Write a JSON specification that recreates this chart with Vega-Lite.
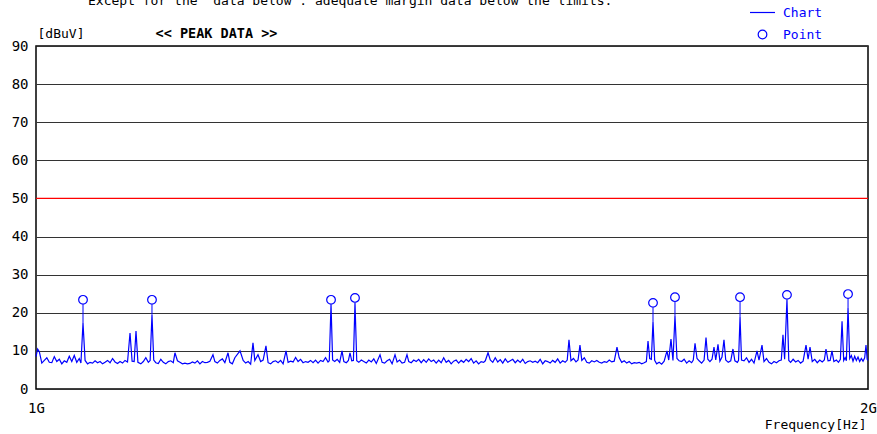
{
"$schema": "https://vega.github.io/schema/vega-lite/v6.json",
"width": 832, "height": 343,
"autosize": {"type": "none"},
"padding": {"left": 36, "top": 46, "right": 9, "bottom": 45},
"background": "white",
"config": {"view": {"stroke": "#000", "strokeWidth": 1.5}, "font": "DejaVu Sans Mono"},
"title": {"text": "Except for the\u00a0 data below : adequate margin data below the limits.", "anchor": "start", "frame": "group", "dx": 52, "offset": -2, "fontSize": 13, "fontWeight": "normal", "font": "DejaVu Sans Mono", "color": "#000"},
"datasets": {
"chart": [
{"f":1000,"v":8.5},{"f":1002,"v":10.5},{"f":1004,"v":9.8},{"f":1007,"v":6.8},{"f":1010,"v":7.5},{"f":1013,"v":8.2},{"f":1016,"v":7},{"f":1019,"v":6.9},{"f":1022,"v":8.5},{"f":1025,"v":7.2},{"f":1028,"v":7.8},{"f":1031,"v":6.6},{"f":1034,"v":7.4},{"f":1037,"v":7.0},{"f":1040,"v":8.6},{"f":1043,"v":7.2},{"f":1046,"v":8.8},{"f":1049,"v":7.0},{"f":1052,"v":8.0},{"f":1054,"v":6.8},{"f":1056.5,"v":17.3},{"f":1059,"v":7.5},{"f":1062,"v":6.6},{"f":1065,"v":7.0},{"f":1068,"v":6.8},{"f":1071,"v":7.4},{"f":1074,"v":6.9},{"f":1077,"v":7.2},{"f":1080,"v":6.6},{"f":1083,"v":7.0},{"f":1086,"v":7.5},{"f":1089,"v":6.9},{"f":1092,"v":8.0},{"f":1095,"v":7.1},{"f":1098,"v":6.7},{"f":1101,"v":7.2},{"f":1104,"v":6.8},{"f":1107,"v":7.5},{"f":1110,"v":7.1},{"f":1113,"v":14.7},{"f":1115.5,"v":7.3},{"f":1118,"v":7.2},{"f":1120.2,"v":15.2},{"f":1122.5,"v":7.0},{"f":1126,"v":6.6},{"f":1129,"v":7.2},{"f":1132,"v":8.2},{"f":1135,"v":7.0},{"f":1137.2,"v":7.5},{"f":1139.4,"v":19.5},{"f":1141.5,"v":7.6},{"f":1144,"v":6.9},{"f":1147,"v":6.7},{"f":1150,"v":7.8},{"f":1153,"v":7.0},{"f":1156,"v":6.6},{"f":1159,"v":7.2},{"f":1162,"v":7.4},{"f":1165,"v":6.9},{"f":1167,"v":9.5},{"f":1170,"v":7.4},{"f":1173,"v":7.0},{"f":1176,"v":6.6},{"f":1179,"v":6.8},{"f":1182,"v":6.6},{"f":1185,"v":6.7},{"f":1188,"v":7.1},{"f":1191,"v":6.8},{"f":1194,"v":7.4},{"f":1197,"v":6.6},{"f":1200,"v":7.2},{"f":1203,"v":6.9},{"f":1206,"v":7.0},{"f":1209,"v":7.3},{"f":1212.7,"v":9.0},{"f":1215,"v":7.2},{"f":1218,"v":6.8},{"f":1221,"v":7.5},{"f":1224,"v":7.9},{"f":1227,"v":6.9},{"f":1230.8,"v":9.5},{"f":1233,"v":7.0},{"f":1236,"v":6.6},{"f":1239,"v":8.2},{"f":1245.2,"v":10.0},{"f":1249,"v":7.5},{"f":1252,"v":6.8},{"f":1255,"v":7.2},{"f":1258,"v":6.5},{"f":1260.8,"v":12.1},{"f":1263,"v":7.5},{"f":1266.8,"v":9.0},{"f":1270,"v":7.2},{"f":1273,"v":7.6},{"f":1276.4,"v":11.3},{"f":1279,"v":6.9},{"f":1282,"v":6.6},{"f":1285,"v":7.2},{"f":1288,"v":7.4},{"f":1291,"v":6.9},{"f":1294,"v":7.5},{"f":1297,"v":6.6},{"f":1300.5,"v":10.0},{"f":1303,"v":7.0},{"f":1306,"v":7.3},{"f":1309,"v":7.1},{"f":1312,"v":8.3},{"f":1315,"v":7.2},{"f":1318,"v":7.8},{"f":1321,"v":6.9},{"f":1324,"v":7.2},{"f":1327,"v":7.0},{"f":1330,"v":7.5},{"f":1333,"v":6.9},{"f":1336,"v":7.6},{"f":1339,"v":6.8},{"f":1342,"v":7.5},{"f":1345,"v":7.2},{"f":1348,"v":8.2},{"f":1351,"v":7.1},{"f":1352.5,"v":7.4},{"f":1354.6,"v":22.2},{"f":1356.5,"v":7.6},{"f":1359,"v":7.2},{"f":1362,"v":7.8},{"f":1365,"v":7.0},{"f":1367.8,"v":10.0},{"f":1370,"v":7.2},{"f":1373,"v":6.9},{"f":1375.5,"v":7.5},{"f":1377.4,"v":9.5},{"f":1379.5,"v":7.4},{"f":1381.5,"v":7.5},{"f":1383.4,"v":22.7},{"f":1385.5,"v":7.4},{"f":1388,"v":7.0},{"f":1391,"v":7.6},{"f":1394,"v":7.2},{"f":1397,"v":6.8},{"f":1400,"v":7.6},{"f":1403,"v":7.1},{"f":1406,"v":7.9},{"f":1409,"v":6.7},{"f":1413.5,"v":9.0},{"f":1416,"v":7.0},{"f":1419,"v":6.8},{"f":1422,"v":7.4},{"f":1425,"v":7.8},{"f":1428,"v":6.6},{"f":1431.5,"v":9.0},{"f":1434,"v":7.1},{"f":1437,"v":7.6},{"f":1440,"v":6.8},{"f":1443,"v":7.0},{"f":1445.9,"v":9.0},{"f":1448,"v":7.2},{"f":1451,"v":6.9},{"f":1454,"v":7.6},{"f":1457,"v":7.2},{"f":1460,"v":7.8},{"f":1463,"v":6.9},{"f":1466,"v":7.7},{"f":1469,"v":7.0},{"f":1472,"v":7.9},{"f":1475,"v":7.2},{"f":1478,"v":7.6},{"f":1481,"v":6.8},{"f":1484,"v":7.6},{"f":1487,"v":6.9},{"f":1490,"v":8.2},{"f":1493,"v":7.0},{"f":1496,"v":7.5},{"f":1499,"v":6.6},{"f":1502,"v":7.3},{"f":1505,"v":7.6},{"f":1508,"v":6.8},{"f":1511,"v":7.5},{"f":1514,"v":7.0},{"f":1517,"v":7.8},{"f":1520,"v":7.2},{"f":1523,"v":8.0},{"f":1526,"v":6.8},{"f":1529,"v":7.4},{"f":1532,"v":6.6},{"f":1535,"v":7.2},{"f":1538,"v":7.0},{"f":1540,"v":7.4},{"f":1543.3,"v":9.5},{"f":1546,"v":7.6},{"f":1549,"v":7.0},{"f":1552,"v":8.2},{"f":1555,"v":7.1},{"f":1558,"v":7.7},{"f":1561,"v":6.8},{"f":1564,"v":7.9},{"f":1567,"v":7.0},{"f":1570,"v":7.4},{"f":1573,"v":7.8},{"f":1576,"v":6.9},{"f":1579,"v":7.6},{"f":1582,"v":7.0},{"f":1585,"v":7.8},{"f":1588,"v":6.7},{"f":1591,"v":7.2},{"f":1594,"v":7.4},{"f":1597,"v":7.0},{"f":1600,"v":7.3},{"f":1603,"v":6.9},{"f":1606,"v":7.8},{"f":1609,"v":6.6},{"f":1612,"v":7.4},{"f":1615,"v":7.2},{"f":1618,"v":6.8},{"f":1621,"v":7.5},{"f":1624,"v":7.0},{"f":1627,"v":7.9},{"f":1630,"v":6.8},{"f":1633,"v":7.4},{"f":1636,"v":7.0},{"f":1638.5,"v":7.6},{"f":1640.6,"v":12.9},{"f":1643,"v":7.4},{"f":1646,"v":8.0},{"f":1649,"v":7.1},{"f":1651.5,"v":7.6},{"f":1653.8,"v":11.5},{"f":1656,"v":7.5},{"f":1659,"v":8.2},{"f":1662,"v":7.0},{"f":1665,"v":6.8},{"f":1668,"v":7.4},{"f":1671,"v":7.1},{"f":1674,"v":7.5},{"f":1677,"v":7.0},{"f":1680,"v":6.8},{"f":1683,"v":7.2},{"f":1686,"v":7.0},{"f":1689,"v":7.6},{"f":1692,"v":7.1},{"f":1695,"v":7.3},{"f":1698.3,"v":11.0},{"f":1701,"v":8.2},{"f":1704,"v":7.0},{"f":1707,"v":7.4},{"f":1710,"v":6.8},{"f":1713,"v":7.2},{"f":1716,"v":6.6},{"f":1719,"v":6.9},{"f":1722,"v":6.8},{"f":1725,"v":7.0},{"f":1728,"v":6.6},{"f":1731,"v":6.9},{"f":1733.6,"v":7.2},{"f":1735.6,"v":12.6},{"f":1737.6,"v":8.0},{"f":1739.6,"v":7.8},{"f":1741.6,"v":17.7},{"f":1743.6,"v":7.5},{"f":1746,"v":6.6},{"f":1749,"v":7.0},{"f":1752,"v":6.5},{"f":1755,"v":7.3},{"f":1758.4,"v":10.0},{"f":1760.5,"v":7.6},{"f":1763.2,"v":13.1},{"f":1765.6,"v":7.5},{"f":1768,"v":19.2},{"f":1770.4,"v":8.0},{"f":1773,"v":7.4},{"f":1776,"v":7.2},{"f":1779,"v":7.8},{"f":1782,"v":6.8},{"f":1785,"v":7.4},{"f":1788,"v":6.9},{"f":1790,"v":7.6},{"f":1792.1,"v":12.0},{"f":1794.5,"v":8.0},{"f":1797,"v":7.4},{"f":1800,"v":6.8},{"f":1803,"v":7.6},{"f":1805.3,"v":13.5},{"f":1807.5,"v":7.8},{"f":1810,"v":7.2},{"f":1812.5,"v":7.8},{"f":1814.9,"v":11.0},{"f":1817,"v":7.6},{"f":1819.7,"v":11.7},{"f":1822,"v":7.3},{"f":1824.5,"v":8.4},{"f":1826.9,"v":12.9},{"f":1829,"v":7.6},{"f":1832,"v":7.0},{"f":1835,"v":7.4},{"f":1837.7,"v":10.5},{"f":1840,"v":7.4},{"f":1843,"v":7.0},{"f":1844.4,"v":7.5},{"f":1846.2,"v":18.9},{"f":1848,"v":7.6},{"f":1851,"v":7.4},{"f":1854,"v":8.2},{"f":1857,"v":7.0},{"f":1860,"v":7.8},{"f":1863,"v":6.8},{"f":1866.6,"v":10.0},{"f":1869,"v":7.6},{"f":1872.6,"v":11.5},{"f":1875,"v":7.2},{"f":1878,"v":8.0},{"f":1881,"v":7.0},{"f":1884,"v":6.6},{"f":1887,"v":7.2},{"f":1890,"v":6.9},{"f":1893,"v":7.4},{"f":1895.8,"v":7.6},{"f":1897.8,"v":14.2},{"f":1899.8,"v":7.8},{"f":1902.6,"v":23.5},{"f":1904.8,"v":7.5},{"f":1907,"v":7.0},{"f":1910,"v":7.8},{"f":1913,"v":7.1},{"f":1916,"v":7.5},{"f":1919,"v":6.8},{"f":1922,"v":7.3},{"f":1925.5,"v":11.5},{"f":1928,"v":7.8},{"f":1930.3,"v":11.0},{"f":1933,"v":7.2},{"f":1936,"v":7.8},{"f":1939,"v":6.9},{"f":1942,"v":7.6},{"f":1945,"v":7.1},{"f":1947.5,"v":7.6},{"f":1949.5,"v":10.5},{"f":1952,"v":7.4},{"f":1954.5,"v":7.5},{"f":1956.7,"v":10.0},{"f":1959,"v":7.2},{"f":1962,"v":7.6},{"f":1964.5,"v":7.0},{"f":1966.8,"v":7.8},{"f":1968.8,"v":17.8},{"f":1970.8,"v":7.5},{"f":1972.5,"v":8.2},{"f":1974,"v":7.4},{"f":1976,"v":21.3},{"f":1978,"v":8.0},{"f":1980,"v":8.8},{"f":1982,"v":7.3},{"f":1984,"v":8.6},{"f":1986,"v":7.5},{"f":1988,"v":8.4},{"f":1990,"v":7.2},{"f":1992,"v":8.0},{"f":1994,"v":7.3},{"f":1996,"v":8.2},{"f":1997.6,"v":11.5},{"f":1999,"v":7.8},{"f":2000,"v":7.5}
],
"peaks": [
{"f":1056.5,"top":17.3,"stem":22.2,"peak":23.4},
{"f":1139.4,"top":19.5,"stem":22.2,"peak":23.4},
{"f":1354.6,"top":22.2,"stem":22.2,"peak":23.4},
{"f":1383.4,"top":22.7,"stem":22.7,"peak":23.9},
{"f":1741.6,"top":17.7,"stem":21.4,"peak":22.6},
{"f":1768,"top":19.2,"stem":22.9,"peak":24.1},
{"f":1846.2,"top":18.9,"stem":22.9,"peak":24.1},
{"f":1902.6,"top":23.5,"stem":23.5,"peak":24.7},
{"f":1976,"top":21.3,"stem":23.7,"peak":24.9}
],
"limit": [{"limit": 50}]
},
"layer": [
{"data": {"name": "chart"},
 "mark": {"type": "line", "strokeWidth": 1.2},
 "encoding": {
  "x": {"field": "f", "type": "quantitative", "scale": {"domain": [1000, 2000], "nice": false},
   "axis": {"orient": "bottom", "values": [1000, 2000], "labelExpr": "datum.value == 1000 ? '1G' : '2G'", "grid": false, "ticks": false, "domain": false, "labelFlush": false, "labelPadding": 12, "labelFontSize": 14, "labelColor": "#000", "labelFont": "DejaVu Sans Mono",
    "title": "Frequency[Hz]", "titleAnchor": "end", "titleAlign": "right", "titleX": 830, "titleY": 35, "titleBaseline": "middle", "titleFontSize": 13, "titleFontWeight": "normal", "titleColor": "#000", "titleFont": "DejaVu Sans Mono"}},
  "y": {"field": "v", "type": "quantitative", "scale": {"domain": [0, 90], "nice": false},
   "axis": {"values": [0,10,20,30,40,50,60,70,80,90], "labelOverlap": false, "grid": true, "gridColor": "#333", "gridWidth": 1.2, "domain": false, "ticks": false, "labelPadding": 8, "labelFontSize": 14, "labelColor": "#000", "labelFont": "DejaVu Sans Mono", "labelBaseline": "middle",
    "title": "[dBuV]", "titleAngle": 0, "titleAlign": "left", "titleBaseline": "middle", "titleX": 1, "titleY": -13, "titleFontSize": 13, "titleFontWeight": "normal", "titleColor": "#000", "titleFont": "DejaVu Sans Mono"}},
  "color": {"datum": "Chart", "scale": {"domain": ["Chart", "Point"], "range": ["#0000ff", "#0000ff"]},
   "legend": {"orient": "none", "legendX": 720, "legendY": -40, "title": null, "padding": 0, "symbolSize": 400, "symbolType": "stroke", "symbolStrokeWidth": 1.2, "labelFontSize": 13, "labelColor": "#0000ff", "labelFont": "DejaVu Sans Mono", "labelOffset": 14, "rowPadding": 7,
    "encode": {"symbols": {"update": {"shape": {"signal": "datum.value === 'Chart' ? 'stroke' : 'circle'"}, "size": {"signal": "datum.value === 'Chart' ? 625 : 75"}, "fill": {"value": "transparent"}, "stroke": {"value": "#0000ff"}, "strokeWidth": {"value": 1.2}}}}}}
 }},
{"data": {"name": "limit"},
 "mark": {"type": "rule", "color": "#ff0000", "strokeWidth": 1.2},
 "encoding": {"y": {"field": "limit", "type": "quantitative",
   "axis": {"values": [0,10,20,30,40,50,60,70,80,90], "labelOverlap": false, "grid": true, "gridColor": "#333", "gridWidth": 1.2, "domain": false, "ticks": false, "labelPadding": 8, "labelFontSize": 14, "labelColor": "#000", "labelFont": "DejaVu Sans Mono", "labelBaseline": "middle",
    "title": "[dBuV]", "titleAngle": 0, "titleAlign": "left", "titleBaseline": "middle", "titleX": 1, "titleY": -13, "titleFontSize": 13, "titleFontWeight": "normal", "titleColor": "#000", "titleFont": "DejaVu Sans Mono"}}}},
{"data": {"name": "peaks"},
 "mark": {"type": "rule", "color": "#0000ff", "strokeWidth": 1},
 "encoding": {
  "x": {"field": "f", "type": "quantitative", "axis": null},
  "y": {"field": "top", "type": "quantitative",
   "axis": {"values": [0,10,20,30,40,50,60,70,80,90], "labelOverlap": false, "grid": true, "gridColor": "#333", "gridWidth": 1.2, "domain": false, "ticks": false, "labelPadding": 8, "labelFontSize": 14, "labelColor": "#000", "labelFont": "DejaVu Sans Mono", "labelBaseline": "middle",
    "title": "[dBuV]", "titleAngle": 0, "titleAlign": "left", "titleBaseline": "middle", "titleX": 1, "titleY": -13, "titleFontSize": 13, "titleFontWeight": "normal", "titleColor": "#000", "titleFont": "DejaVu Sans Mono"}},
  "y2": {"field": "stem"}}},
{"data": {"name": "peaks"},
 "mark": {"type": "point", "shape": "circle", "filled": false, "size": 75, "strokeWidth": 1.2, "opacity": 1},
 "encoding": {
  "x": {"field": "f", "type": "quantitative",
   "axis": {"orient": "top", "labels": false, "ticks": false, "domain": false, "grid": false, "title": "<< PEAK DATA >>", "titleAnchor": "start", "titleAlign": "left", "titleX": 119, "titleY": -13, "titleBaseline": "middle", "titleFontSize": 13.5, "titleFontWeight": "bold", "titleColor": "#000", "titleFont": "DejaVu Sans Mono"}},
  "y": {"field": "peak", "type": "quantitative",
   "axis": {"values": [0,10,20,30,40,50,60,70,80,90], "labelOverlap": false, "grid": true, "gridColor": "#333", "gridWidth": 1.2, "domain": false, "ticks": false, "labelPadding": 8, "labelFontSize": 14, "labelColor": "#000", "labelFont": "DejaVu Sans Mono", "labelBaseline": "middle",
    "title": "[dBuV]", "titleAngle": 0, "titleAlign": "left", "titleBaseline": "middle", "titleX": 1, "titleY": -13, "titleFontSize": 13, "titleFontWeight": "normal", "titleColor": "#000", "titleFont": "DejaVu Sans Mono"}},
  "color": {"datum": "Point"}}}
],
"resolve": {"axis": {"x": "independent"}}
}
